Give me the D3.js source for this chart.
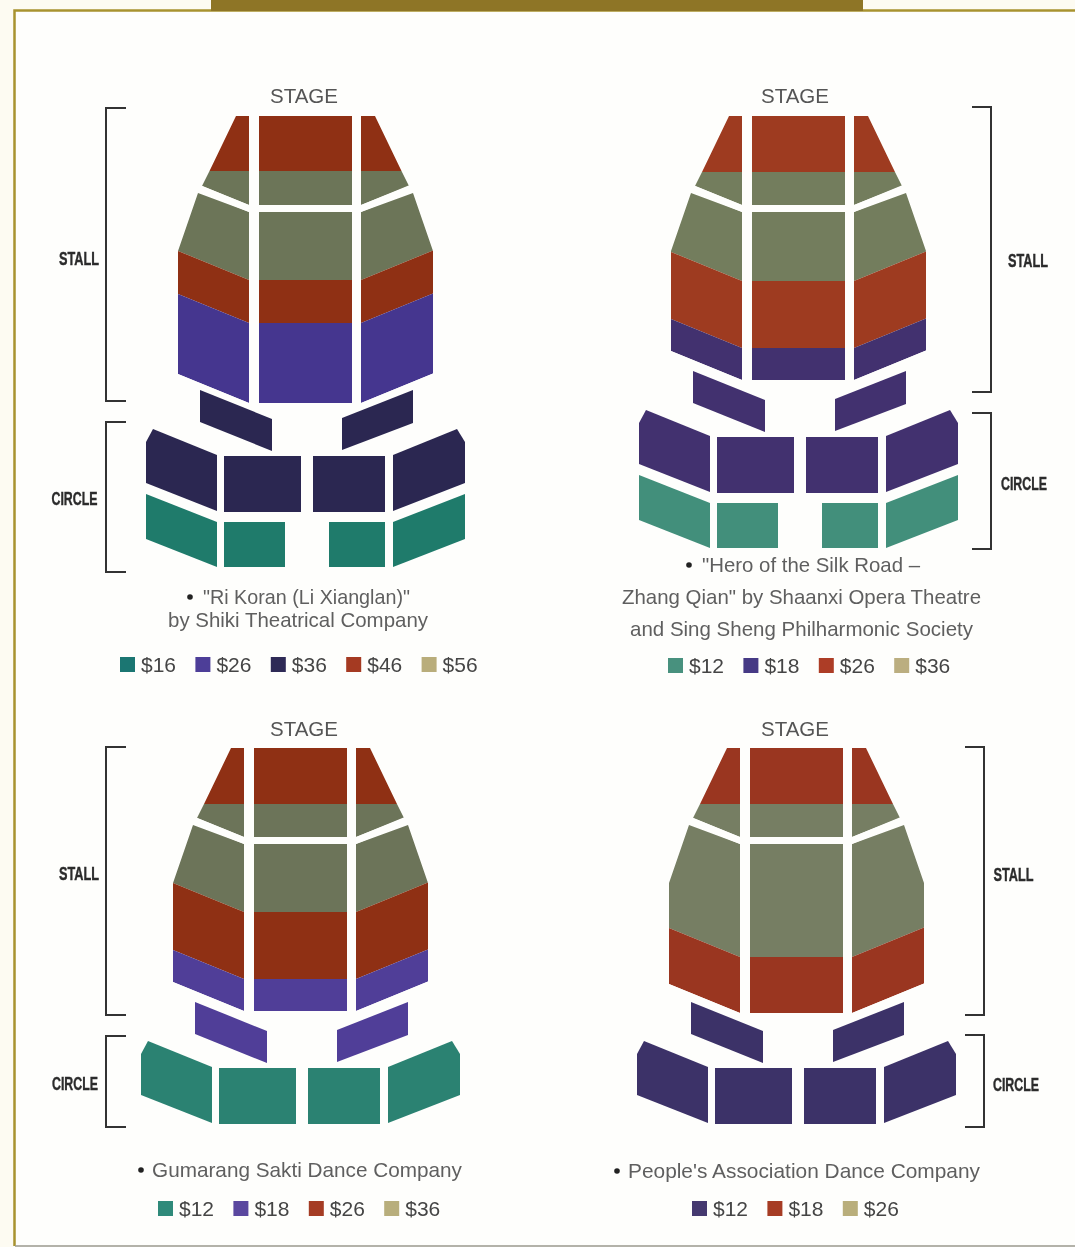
<!DOCTYPE html>
<html lang="en">
<head>
<meta charset="UTF-8">
<title>Seating plans and ticket prices</title>
<script src="https://d3js.org/d3.v7.min.js"></script>
<style>
    html, body { margin: 0; background: #fdfbf2; }
    svg { display: block; filter: blur(0.35px); }
    text { font-family: "Liberation Sans", sans-serif; }
    .stage { font-size: 20.5px; fill: #555; text-anchor: middle; }
    .title { font-size: 20.6px; fill: #5f5f5f; text-anchor: middle; }
    .price { font-size: 21px; fill: #454545; }
    .section { font-size: 18px; font-weight: bold; fill: #2b2b2b; stroke: #2b2b2b; stroke-width: 0.4px; text-anchor: middle; }
    .bracket { fill: none; stroke: #333; stroke-width: 2px; }
</style>
</head>
<body>
<script>
    // ticket price of each stall band, front to back, and where the band ends (rows from the stage)
    const riPrices = [46, 56, 46, 26];
    const riDepths = [55, 164, 207, 287];
    const heroPrices = [26, 36, 26, 18];
    const heroDepths = [56, 165, 232, 264];
    const gumarangPrices = [26, 36, 26, 18];
    const gumarangDepths = [56, 164, 231, 263];
    const peoplePrices = [18, 26, 18];
    const peopleDepths = [56, 209, 265];

    // rear stall blocks, front circle, back circle (null = not on sale)
    const riCircle = [36, 36, 16];
    const heroCircle = [18, 18, 12];
    const gumarangCircle = [18, 12, null];
    const peopleCircle = [12, 12, null];

    const riLegend = [16, 26, 36, 46, 56];
    const heroLegend = [12, 18, 26, 36];
    const gumarangLegend = [12, 18, 26, 36];
    const peopleLegend = [12, 18, 26];

    const riTitle = ['"Ri Koran (Li Xianglan)"', "by Shiki Theatrical Company"];
    const heroTitle = ['"Hero of the Silk Road –', 'Zhang Qian" by Shaanxi Opera Theatre', "and Sing Sheng Philharmonic Society"];
    const gumarangTitle = ["Gumarang Sakti Dance Company"];
    const peopleTitle = ["People's Association Dance Company"];

    // the printed colours shift from plan to plan, and the plan ink is not the legend ink
    const riFill = { 16: "#1f7b6b", 26: "#45368f", 36: "#2b2751", 46: "#8f3014", 56: "#6c7558" };
    const heroFill = { 12: "#428f7b", 18: "#42316f", 26: "#9e3b20", 36: "#737d5d" };
    const gumarangFill = { 12: "#2b8272", 18: "#503e98", 26: "#8f3014", 36: "#6c7459" };
    const peopleFill = { 12: "#3c3268", 18: "#9a3620", 26: "#767e63" };
    const riKey = { 16: "#1b7672", 26: "#4d3e98", 36: "#2e2a56", 46: "#a53a22", 56: "#b9ad7b" };
    const heroKey = { 12: "#48917e", 18: "#463a85", 26: "#ad3d26", 36: "#bbae80" };
    const gumarangKey = { 12: "#2f8a7a", 18: "#5a479f", 26: "#a53c24", 36: "#b8ae7c" };
    const peopleKey = { 12: "#453970", 18: "#a63c24", 26: "#b9ae7b" };

    const width = 1075, height = 1247;

    const shows = [
        { prices: riPrices, depths: riDepths, circle: riCircle, legend: riLegend, title: riTitle, fill: riFill, key: riKey,
          cx: 305.5, top: 116, circleY: 456, stageX: 304, stageY: 96, bracketX: 106, tick: 20,
          stall: [108, 401], ring: [422, 572], stallLabel: [79, 258], ringLabel: [74.5, 498],
          titleX: [306.5, 298], titleW: [207, 260], titleY: [597, 620], bullet: 190, legendX: 120, legendY: 665 },
        { prices: heroPrices, depths: heroDepths, circle: heroCircle, legend: heroLegend, title: heroTitle, fill: heroFill, key: heroKey,
          cx: 798.5, top: 116, circleY: 437, stageX: 795, stageY: 96, bracketX: 991, tick: -19,
          stall: [107, 392], ring: [413, 549], stallLabel: [1028, 260], ringLabel: [1024, 483],
          titleX: [811, 801.5, 801.5], titleW: [218, 359, 343], titleY: [565, 597, 629], bullet: 689, legendX: 668, legendY: 666 },
        { prices: gumarangPrices, depths: gumarangDepths, circle: gumarangCircle, legend: gumarangLegend, title: gumarangTitle, fill: gumarangFill, key: gumarangKey,
          cx: 300.5, top: 748, circleY: 1068, stageX: 304, stageY: 729, bracketX: 106, tick: 20,
          stall: [747, 1015], ring: [1036, 1127], stallLabel: [79, 873], ringLabel: [75, 1083],
          titleX: [307], titleW: [310], titleY: [1170], bullet: 141, legendX: 158, legendY: 1209 },
        { prices: peoplePrices, depths: peopleDepths, circle: peopleCircle, legend: peopleLegend, title: peopleTitle, fill: peopleFill, key: peopleKey,
          cx: 796.5, top: 748, circleY: 1068, stageX: 795, stageY: 729, bracketX: 984, tick: -19,
          stall: [747, 1015], ring: [1035, 1127], stallLabel: [1013.5, 874], ringLabel: [1016, 1084],
          titleX: [804], titleW: [352], titleY: [1171], bullet: 617, legendX: 692, legendY: 1209 }
    ];

    // plan outline, same hall every time: x from the centre line, stall y from the stage,
    // circle y from the front edge of the middle circle blocks
    const aisle = [89, 96];
    const wingFall = 0.41;
    const centre = [-46.5, 46.5];
    const leftWing = [-127.5, -56.5];
    const rightWing = [55.5, 127.5];
    const rearBlocks = [
        [[-105.5, -66], [-33.5, -37], [-33.5, -5], [-105.5, -34]],
        [[36.5, -38], [107.5, -66], [107.5, -33], [36.5, -6]]
    ];
    const frontCircle = [
        [[-159.5, -14], [-152.5, -27], [-88.5, -1], [-88.5, 55], [-159.5, 27]],
        [[-81.5, 0], [-4.5, 0], [-4.5, 56], [-81.5, 56]],
        [[7.5, 0], [79.5, 0], [79.5, 56], [7.5, 56]],
        [[87.5, -1], [151.5, -27], [159.5, -14], [159.5, 27], [87.5, 55]]
    ];
    const backCircle = [
        [[-159.5, 38], [-88.5, 66], [-88.5, 111], [-159.5, 83]],
        [[-81.5, 66], [-20.5, 66], [-20.5, 111], [-81.5, 111]],
        [[23.5, 66], [79.5, 66], [79.5, 111], [23.5, 111]],
        [[87.5, 66], [159.5, 38], [159.5, 83], [87.5, 111]]
    ];

    const svg = d3.select("body").append("svg").attr("width", width).attr("height", height);

    // page and gold frame
    svg.append("rect").attr("x", 15).attr("y", 11).attr("width", width).attr("height", 1234).attr("fill", "#fefefc");
    svg.append("path").attr("d", d3.line()([[14.5, 1246], [14.5, 10.5], [width, 10.5]]))
        .attr("fill", "none").attr("stroke", "#a8932f").attr("stroke-width", 2.5);
    svg.append("path").attr("d", d3.line()([[15, 1246], [width, 1246]]))
        .attr("stroke", "#9a9a90").attr("stroke-width", 1.5);
    svg.append("rect").attr("x", 211).attr("y", 0).attr("width", 652).attr("height", 11).attr("fill", "#8e7526");

    shows.forEach((show, i) => {
        const g = svg.append("g");
        const x = d3.scaleLinear().domain([0, 1]).range([show.cx, show.cx + 1]);
        const stallY = d3.scaleLinear().domain([0, 1]).range([show.top, show.top + 1]);
        const circleY = d3.scaleLinear().domain([0, 1]).range([show.circleY, show.circleY + 1]);
        const stallLine = d3.line().x(d => x(d[0])).y(d => stallY(d[1])).curve(d3.curveLinearClosed);
        const circleLine = d3.line().x(d => x(d[0])).y(d => circleY(d[1])).curve(d3.curveLinearClosed);

        // bands, each cut to the shape of its stall column
        const last = show.depths[show.depths.length - 1];
        const edges = [0].concat(show.depths);
        const bands = show.prices.flatMap((price, j) => {
            const from = edges[j], to = edges[j + 1];
            // the cross aisle cuts through whichever band reaches it
            if (from < aisle[0] && to > aisle[1]) return [{ price, from, to: aisle[0] }, { price, from: aisle[1], to }];
            return [{ price, from, to }];
        });
        const edgeAt = (depth, dist) => depth <= edges[1] ? depth : depth - wingFall * dist;

        g.selectAll(".centre").data(bands).join("path")
            .attr("d", b => stallLine([[centre[0], b.from], [centre[1], b.from], [centre[1], b.to], [centre[0], b.to]]))
            .attr("fill", b => show.fill[b.price]);

        [leftWing, rightWing].forEach((side, k) => {
            const s = k ? 1 : -1, inner = k ? side[0] : side[1], outer = k ? side[1] : side[0];
            const span = Math.abs(outer - inner);
            const outline = [
                [[inner, 0], [s * 69.5, 0], [s * 96, 55], [s * 103.5, 70], [inner, aisle[0]]],
                [[inner, aisle[1]], [s * 107.5, 77], [outer, 135], [outer, last - wingFall * span], [inner, last]]
            ];
            const id = "wing-" + i + "-" + k;
            g.append("clipPath").attr("id", id).selectAll("path").data(outline).join("path").attr("d", stallLine);
            g.append("g").attr("clip-path", "url(#" + id + ")")
                .selectAll("path").data(bands).join("path")
                .attr("d", b => stallLine([
                    [inner, b.from], [outer, edgeAt(b.from, span)],
                    [outer, edgeAt(b.to, span)], [inner, b.to]
                ]))
                .attr("fill", b => show.fill[b.price]);
        });

        const [rearPrice, frontPrice, backPrice] = show.circle;
        g.selectAll(".rear").data(rearBlocks).join("path").attr("d", circleLine).attr("fill", show.fill[rearPrice]);
        g.selectAll(".front").data(frontCircle).join("path").attr("d", circleLine).attr("fill", show.fill[frontPrice]);
        if (backPrice) g.selectAll(".back").data(backCircle).join("path").attr("d", circleLine).attr("fill", show.fill[backPrice]);

        g.append("text").attr("class", "stage").attr("x", show.stageX).attr("y", show.stageY + 7).text("STAGE");

        // section brackets
        [show.stall, show.ring].forEach(r => {
            g.append("path").attr("class", "bracket").attr("d", d3.line()([
                [show.bracketX + show.tick, r[0]], [show.bracketX, r[0]], [show.bracketX, r[1]], [show.bracketX + show.tick, r[1]]
            ]));
        });
        g.append("text").attr("class", "section").attr("x", show.stallLabel[0]).attr("y", show.stallLabel[1] + 6.5)
            .attr("textLength", 40).attr("lengthAdjust", "spacingAndGlyphs").text("STALL");
        g.append("text").attr("class", "section").attr("x", show.ringLabel[0]).attr("y", show.ringLabel[1] + 6.5)
            .attr("textLength", 46).attr("lengthAdjust", "spacingAndGlyphs").text("CIRCLE");

        g.selectAll(".title").data(show.title).join("text").attr("class", "title")
            .attr("x", (d, j) => show.titleX[j])
            .attr("y", (d, j) => show.titleY[j] + 7)
            .attr("textLength", (d, j) => show.titleW[j])
            .attr("lengthAdjust", "spacingAndGlyphs")
            .text(d => d);
        g.append("circle").attr("cx", show.bullet).attr("cy", show.titleY[0]).attr("r", 2.8).attr("fill", "#222");

        // price key
        const keyX = d3.scalePoint().domain(show.legend).range([show.legendX, show.legendX + 75.4 * (show.legend.length - 1)]);
        const key = g.selectAll(".key").data(show.legend).join("g").attr("transform", d => `translate(${keyX(d)},${show.legendY})`);
        key.append("rect").attr("y", -8).attr("width", 15).attr("height", 15).attr("fill", d => show.key[d]);
        key.append("text").attr("class", "price").attr("x", 21).attr("y", 7).text(d => "$" + d);
    });
</script>
</body>
</html>
